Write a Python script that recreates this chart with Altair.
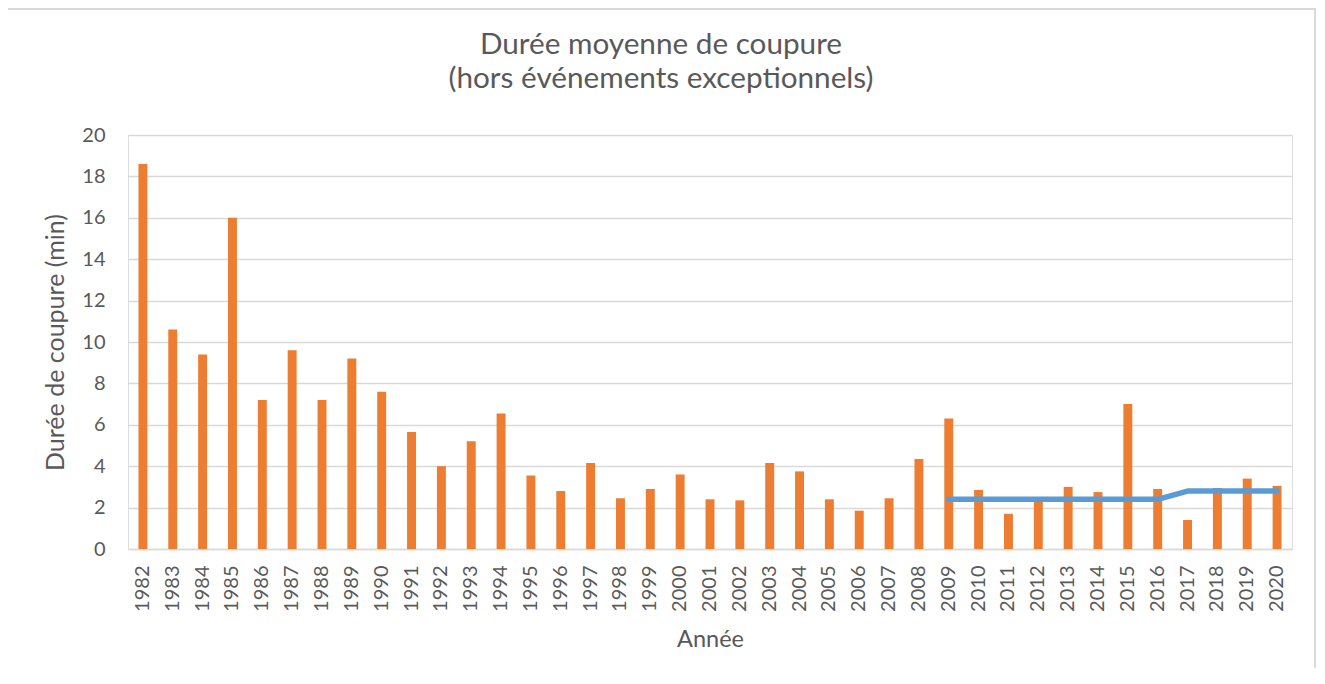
import altair as alt
import pandas as pd

years = ["1982", "1983", "1984", "1985", "1986", "1987", "1988", "1989", "1990",
         "1991", "1992", "1993", "1994", "1995", "1996", "1997", "1998", "1999",
         "2000", "2001", "2002", "2003", "2004", "2005", "2006", "2007", "2008",
         "2009", "2010", "2011", "2012", "2013", "2014", "2015", "2016", "2017",
         "2018", "2019", "2020"]
durations = [18.6, 10.6, 9.4, 16.0, 7.2, 9.6, 7.2, 9.2, 7.6,
             5.65, 4.0, 5.2, 6.55, 3.55, 2.8, 4.15, 2.45, 2.9,
             3.6, 2.4, 2.35, 4.15, 3.75, 2.4, 1.85, 2.45, 4.35,
             6.3, 2.85, 1.7, 2.35, 3.0, 2.75, 7.0, 2.9, 1.4,
             2.95, 3.4, 3.05]

trend_years = ["2009", "2010", "2011", "2012", "2013", "2014", "2015", "2016",
               "2017", "2018", "2019", "2020"]
trend_values = [2.4, 2.4, 2.4, 2.4, 2.4, 2.4, 2.4, 2.4, 2.8, 2.8, 2.8, 2.8]

y_ticks = [0, 2, 4, 6, 8, 10, 12, 14, 16, 18, 20]

bars_df = pd.DataFrame({"Année": years, "Durée": durations})
trend_df = pd.DataFrame({"Année": trend_years, "Durée": trend_values})

FONT = "Lato"
TEXT = "#595959"
GRID = "#d9d9d9"
W, H = 1164, 414

x_enc = alt.X(
    "Année:O",
    sort=years,
    scale=alt.Scale(domain=years, paddingInner=0.7, paddingOuter=0.35),
    axis=alt.Axis(
        title="Année", labelAngle=270, labelPadding=16, ticks=False, tickSize=0,
        domain=True, domainColor=GRID, domainWidth=1.5, grid=False,
        labelFont=FONT, labelFontSize=20, labelColor=TEXT,
        titleFont=FONT, titleFontSize=23.5, titleColor=TEXT, titleFontWeight="normal",
        titleX=W / 2, titleY=97, titleAlign="center", titleBaseline="alphabetic",
    ),
)
y_enc = alt.Y(
    "Durée:Q",
    scale=alt.Scale(domain=[0, 20], nice=False),
    axis=alt.Axis(
        title="Durée de coupure (min)", values=y_ticks, grid=True, gridColor=GRID,
        gridWidth=1.5, domain=False, ticks=False, tickSize=0, labelPadding=23,
        labelFont=FONT, labelFontSize=20, labelColor=TEXT,
        titleFont=FONT, titleFontSize=25, titleColor=TEXT, titleFontWeight="normal",
        titleAngle=270, titleX=-65, titleY=H / 2, titleAlign="center",
        titleBaseline="alphabetic",
    ),
)

bars = alt.Chart(bars_df).mark_bar(color="#ED7D31").encode(x=x_enc, y=y_enc)
trend = alt.Chart(trend_df).mark_line(
    color="#5B9BD5", strokeWidth=5.5, strokeCap="round", strokeJoin="round"
).encode(x=alt.X("Année:O", sort=years), y=alt.Y("Durée:Q"))

frame = alt.Chart(alt.Data(values=[{}])).mark_rect(
    fillOpacity=0, stroke=GRID, strokeWidth=2
).encode(
    x=alt.value(-121), x2=alt.value(1187), y=alt.value(-126), y2=alt.value(700)
)

chart = alt.layer(frame, bars, trend).properties(
    width=W,
    height=H,
    title=alt.TitleParams(
        ["Durée moyenne de coupure", "(hors événements exceptionnels)"],
        font=FONT, fontSize=29.7, fontWeight="normal", color=TEXT,
        anchor="middle", frame="bounds", lineHeight=34, offset=-87,
    ),
    autosize=alt.AutoSizeParams(type="none"),
    padding={"left": 120, "top": 127, "right": 25, "bottom": 119},
).configure_view(stroke=None).configure(background="white")

chart.save("out.html", embed_options={"renderer": "svg", "actions": False})
